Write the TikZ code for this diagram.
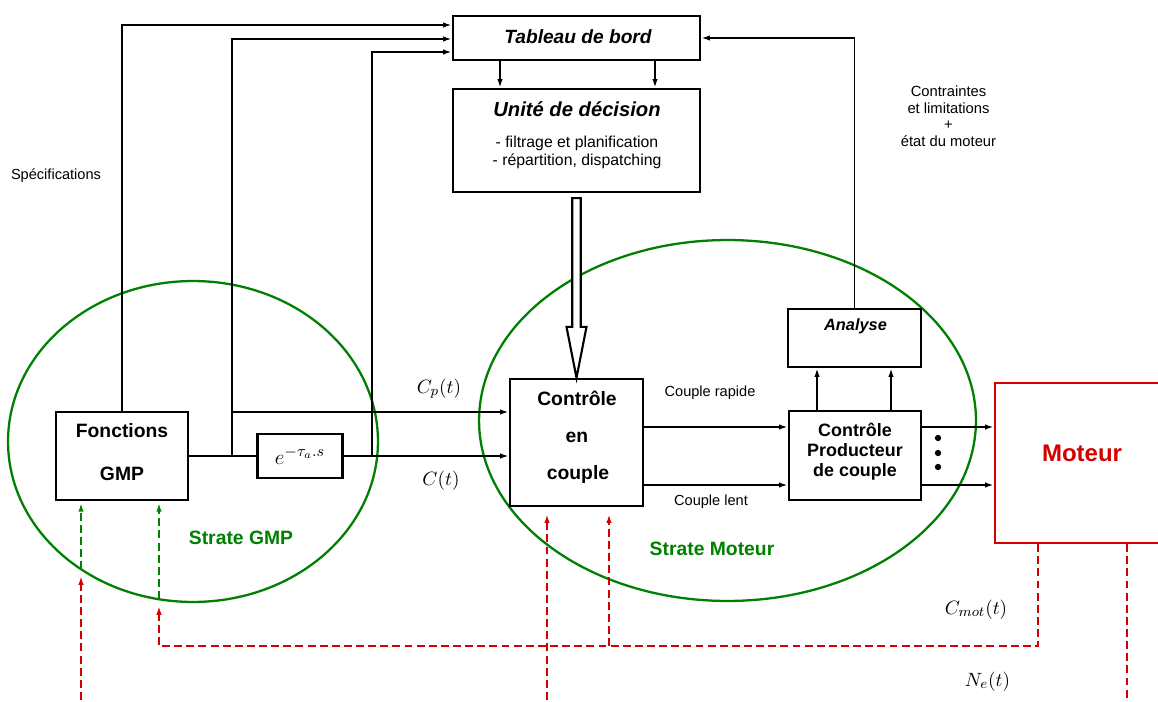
\documentclass[tikz,border=0pt]{standalone}
\usepackage{fontspec}
\setmainfont{Liberation Sans}
\usetikzlibrary{arrows.meta,calc}
\definecolor{grn}{RGB}{0,128,0}
\definecolor{rd}{RGB}{212,0,0}
\begin{document}
\begin{tikzpicture}[x=0.02cm,y=-0.02cm,
  wh/.style 2 args={minimum width=#1*0.02cm, minimum height=#2*0.02cm},
  box/.style={draw,line width=1.3pt,inner sep=0pt},
  ln/.style={line width=1pt},
  arr/.style={line width=1pt,-{Latex[length=5pt,width=3.1pt]}},
  rdash/.style={draw=rd,line width=1.05pt,dash pattern=on 4.5pt off 2.4pt},
  gdash/.style={draw=grn,line width=1.05pt,dash pattern=on 4.5pt off 2.4pt},
  rarr/.style={-{Latex[length=5pt,width=3.1pt]}},
  lbl/.style={anchor=base,inner sep=0pt},
  fs/.style={font=\fontsize{#1}{#1}\selectfont},
  fb/.style={font=\fontsize{#1}{#1}\selectfont\bfseries},
  fbi/.style={font=\fontsize{#1}{#1}\selectfont\bfseries\itshape},
  mth/.style={anchor=base,inner sep=0pt,font=\fontsize{11}{13}\selectfont}
]
\fill[white] (0,0) rectangle (1158,702);
\clip (0,0) rectangle (1158,702);

% ellipses
\draw[grn,line width=1.3pt] (193,441.5) ellipse [x radius=3.70cm, y radius=3.21cm];
\draw[grn,line width=1.3pt] (727.5,420.5) ellipse [x radius=4.97cm, y radius=3.61cm];

% boxes
\node[box, wh={247}{44}] (tab) at (576.5,38) {};
\node[box, wh={247}{103}] (unite) at (576.5,140.5) {};
\node[box, wh={133}{58}] (ana) at (854.5,338) {};
\node[box, wh={133}{127}] (cec) at (576.5,442.5) {};
\node[box, wh={132}{89}] (cp) at (855,455.5) {};
\node[box, wh={132}{88}] (fgmp) at (122,456) {};
\node[box, wh={85}{44}] (delay) at (300,456) {};
\node[draw=rd, line width=1.3pt, inner sep=0pt, wh={176}{160}] (mot) at (1083,463) {};

% texts
\node[lbl,fbi=10.9] at (578,43.3) {Tableau de bord};
\node[lbl,fbi=11.5] at (577,116.7) {Unité de décision};
\node[lbl,fs=9] at (577,147.5) {- filtrage et planification};
\node[lbl,fs=9] at (577,165.5) {- répartition, dispatching};
\node[lbl,fs=8.3] at (56,180) {Spécifications};
\node[lbl,fs=8.4] at (948.5,96.7) {Contraintes};
\node[lbl,fs=8.4] at (948.5,113.2) {et limitations};
\node[lbl,fs=8.4] at (948.5,129.7) {+};
\node[lbl,fs=8.4] at (948.5,146.2) {état du moteur};
\node[lbl,fbi=9.3] at (855.5,330) {Analyse};
\node[lbl,fb=11] at (577,405) {Contrôle};
\node[lbl,fb=11] at (577,442) {en};
\node[lbl,fb=11] at (578,479) {couple};
\node[lbl,fs=8.3] at (710,396.5) {Couple rapide};
\node[lbl,fs=8.3] at (711,505) {Couple lent};
\node[lbl,fb=10.2] at (855,436) {Contrôle};
\node[lbl,fb=10.2] at (855,456) {Producteur};
\node[lbl,fb=10.2] at (855,476) {de couple};
\node[lbl,fb=11] at (122,437) {Fonctions};
\node[lbl,fb=11] at (122,480) {GMP};
\node[lbl,fb=13.66,text=rd] at (1082,461.7) {Moteur};
\node[lbl,fb=11,text=grn] at (241,544) {Strate GMP};
\node[lbl,fb=11,text=grn] at (712,555) {Strate Moteur};
\node[mth] at (439,393) {$C_{p}(t)$};
\node[mth] at (441,485) {$C(t)$};
\node[mth] at (976,614) {$C_{mot}(t)$};
\node[mth] at (987.5,686) {$N_{e}(t)$};
\node[inner sep=0pt,font=\fontsize{13}{15}\selectfont] at (delay.center) {$e^{-\tau_{a}.s}$};

% junction coordinates
\coordinate (j1) at (232,456);
\coordinate (j2) at (232,412);
\coordinate (j3) at (372,456);

% connectors
\draw[arr] (fgmp.north) |- ($(tab.west)+(0,-13)$);
\draw[arr] (j1) |- ($(tab.west)+(0,1)$);
\draw[arr] (j3) |- ($(tab.west)+(0,14)$);
\draw[ln] (fgmp.east) -- (delay.west);
\draw[arr] (delay.east) -- (delay.east -| cec.west);
\draw[arr] (j2) -- (j2 -| cec.west);
\draw[arr] (tab.south -| 500,0) -- (unite.north -| 500,0);
\draw[arr] (tab.south -| 655,0) -- (unite.north -| 655,0);
\draw[arr] (ana.north) |- (tab.east);
\draw[arr] (cp.north -| 817,0) -- (ana.south -| 817,0);
\draw[arr] (cp.north -| 891,0) -- (ana.south -| 891,0);
\draw[arr] (cec.east |- 0,427) -- (cp.west |- 0,427);
\draw[arr] (cec.east |- 0,485) -- (cp.west |- 0,485);
\draw[arr] (cp.east |- 0,427) -- (mot.west |- 0,427);
\draw[arr] (cp.east |- 0,485) -- (mot.west |- 0,485);
\fill (938,438) circle[radius=1.8pt];
\fill (938,453) circle[radius=1.8pt];
\fill (938,467) circle[radius=1.8pt];

% hollow arrow
\coordinate (ha) at ($(unite.south)+(0,5)$);
\coordinate (hb) at (cec.north);
\draw[line width=1.2pt,fill=white] ($(ha)+(-4.25,0)$) -- ($(ha)+(4.25,0)$) -- ($(hb)+(4.25,-51)$) -- ($(hb)+(10,-51)$) -- (hb) -- ($(hb)+(-10,-51)$) -- ($(hb)+(-4.25,-51)$) -- cycle;

% dashed feedback
\coordinate (c1) at (159,606);
\coordinate (c2) at (159,599);
\coordinate (c3) at (609,646);
\coordinate (n1) at (1127,712);
\coordinate (n2) at (547,712);
\coordinate (n3) at (81,712);
\coordinate (n4) at (81,576);
\coordinate (n5) at (81,569);
\draw[rdash,rarr] (mot.south -| 1038,0) |- (c3) -| (c1);
\draw[gdash,rarr,shorten >=1pt] (c2) -- (fgmp.south -| c2);
\draw[rdash,rarr,shorten >=4pt] (c3) -- (cec.south -| c3);
\draw[rdash] (mot.south -| n1) -- (n1);
\draw[rdash,rarr,shorten >=4pt] (n2) -- (cec.south -| n2);
\draw[rdash,rarr] (n3) -- (n4);
\draw[gdash,rarr,shorten >=1pt] (n5) -- (fgmp.south -| n5);
\end{tikzpicture}
\end{document}
